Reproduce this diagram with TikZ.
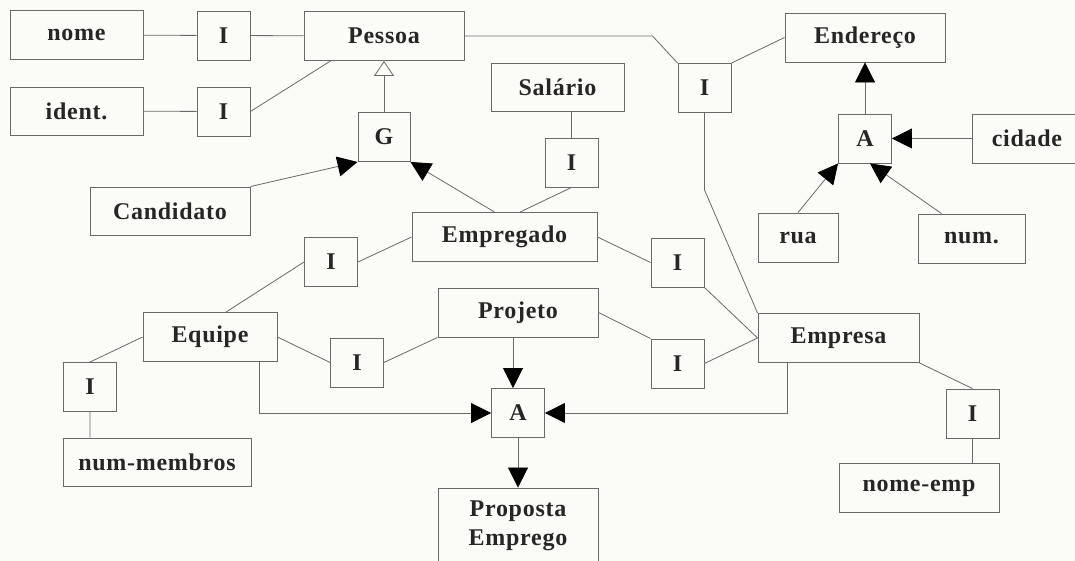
\documentclass[tikz,border=0pt]{standalone}
\usepackage{fontspec}
\setmainfont{Liberation Serif}[LetterSpace=3]
\usetikzlibrary{arrows.meta,positioning}
\definecolor{linha}{RGB}{105,105,105}
\definecolor{fundo}{RGB}{251,251,248}

\begin{document}
\begin{tikzpicture}[x=1pt,y=-1pt,every node/.style={inner sep=1pt}]
\tikzstyle{box}=[draw=linha,line width=0.9pt,minimum height=49pt,text=black!85,font=\fontsize{24}{29}\selectfont\bfseries]
\tikzstyle{ibox}=[box,minimum width=53pt]
\tikzstyle{link}=[draw=linha,line width=0.8pt]
\tikzstyle{arrow}=[link,-{Triangle[length=20pt,width=20pt,color=black]}]
\tikzstyle{isa}=[link,-{Triangle[open,length=15pt,width=20pt]}]
\fill[fundo](0,0)rectangle(1075,561);
\useasboundingbox(0,0)rectangle(1075,561);

\node[box,minimum width=133pt](nome) at (76.5,35){nome};
\node[ibox](i1) at (223.5,35.5){I};
\node[box,minimum width=160pt](pes) at (384,36){Pessoa};
\node[box,minimum width=133pt,minimum height=48pt,below of=nome,node distance=76pt](ide){ident.};
\node[ibox,below of=i1,node distance=76pt](i2){I};
\node[ibox,minimum width=52pt,below of=pes,node distance=101pt](g){G};
\node[box,minimum width=160pt,minimum height=48pt](can) at (170,211){Candidato};

\node[box,minimum width=133pt,minimum height=48pt](sal) at (557.5,87){Salário};
\node[ibox](i3) at (571.5,162.5){I};
\node[box,minimum width=185pt](emp) at (504.5,237){Empregado};

\node[ibox](i4) at (704.5,88){I};
\node[box,minimum width=160pt](end) at (865,37.5){Endereço};
\node[ibox,below of=end,node distance=101pt](a1){A};
\node[box,minimum width=110pt](cid) at (1027,138.5){cidade};
\node[box,minimum width=80pt](rua) at (798,237.5){rua};
\node[box,minimum width=107pt](num) at (971.5,238.5){num.};

\node[ibox](i5) at (331,262){I};
\node[ibox](i6) at (677.5,262.5){I};
\node[box,minimum width=134pt](eqp) at (210,337){Equipe};
\node[box,minimum width=160pt](prj) at (518,312.5){Projeto};
\node[box,minimum width=161pt](emr) at (838.5,338){Empresa};
\node[ibox](i7) at (357,362.5){I};
\node[ibox,below of=i6,node distance=101pt](i8){I};
\node[ibox](i9) at (90,387){I};
\node[ibox,below of=prj,node distance=100.5pt](a2){A};
\node[ibox](i10) at (972.5,413.5){I};

\node[box,minimum width=188pt,minimum height=48pt](nmb) at (157,462){num-membros};
\node[box,minimum width=160pt](nem) at (919,488){nome-emp};
\node[box,minimum width=160pt,minimum height=76pt,align=center](prp) at (518,526){Proposta\\Emprego};

\path[link](nome)--(i1) (i1)--(pes);
\path[link](ide)--(i2);
\path[link](i2.east)--([xshift=27pt]pes.south west);
\path[isa](g)--(pes);
\path[arrow](can.north east)--(g.south west);
\path[arrow]([xshift=-10pt]emp.north)--(g.south east);
\path[link](i3.north |- sal.south)--(i3.north);
\path[link](i3.south)--([xshift=15.5pt]emp.north);

\path[link](pes.east)--++(188,0)--(i4.north west);
\path[link](i4.north east)--(end.west);
\path[link](i4.south)--++(0,77)--(emr.north west);
\path[arrow](a1)--(end);
\path[arrow](cid)--(a1);
\path[arrow](rua.north)--(a1.south west);
\path[arrow]([xshift=-30pt]num.north)--([xshift=5pt]a1.south);

\path[link](emp.west)--(i5.east) (i5.west)--([xshift=16pt]eqp.north);
\path[link](emp.east)--(i6.west) (i6.south east)--(emr.west);
\path[link](prj.east)--(i8.north west) (i8.east)--(emr.west);
\path[link](eqp.east)--(i7.west) (i7.east)--(prj.south west);
\path[link](eqp.west)--(i9.north) (i9.south)--(i9.south |- nmb.north);

\path[arrow]([xshift=-5pt]a2.north |- prj.south)--([xshift=-5pt]a2.north);
\path[arrow]([xshift=-18pt]eqp.south east)|-(a2.west);
\path[arrow]([xshift=30pt]emr.south west)|-(a2.east);
\path[arrow](a2)--(prp);
\path[link](emr.south east)--(i10.north) (i10.south)--(i10.south |- nem.north);
\end{tikzpicture}
\end{document}
